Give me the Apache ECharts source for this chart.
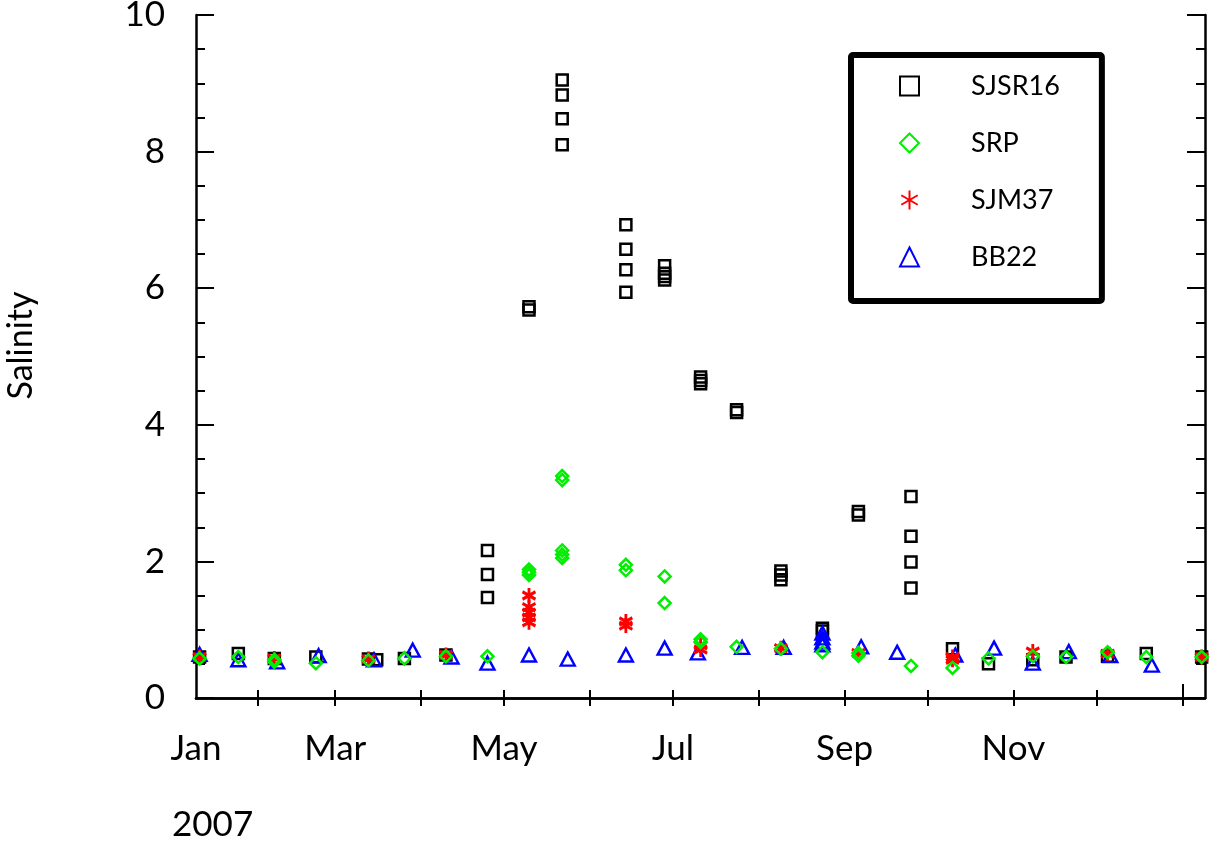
<!DOCTYPE html>
<html>
<head>
<meta charset="utf-8">
<script src="https://cdn.jsdelivr.net/npm/echarts@6/dist/echarts.min.js"></script>
<style>
  html, body { margin: 0; padding: 0; background: #fff; }
  #chart { width: 1211px; height: 842px; }
</style>
</head>
<body>
<div id="chart"></div>
<script>
// salinity samples, [date, value]
var sjsr16 = [
  ['2007-01-11', 0.60], ['2007-01-25', 0.65], ['2007-02-07', 0.58], ['2007-02-22', 0.60],
  ['2007-03-13', 0.57], ['2007-03-16', 0.56], ['2007-03-26', 0.58], ['2007-04-10', 0.63],
  ['2007-04-25', 2.16], ['2007-04-25', 1.81], ['2007-04-25', 1.47],
  ['2007-05-10', 5.73], ['2007-05-10', 5.68],
  ['2007-05-22', 9.05], ['2007-05-22', 8.83], ['2007-05-22', 8.48], ['2007-05-22', 8.10],
  ['2007-06-14', 6.93], ['2007-06-14', 6.57], ['2007-06-14', 6.27], ['2007-06-14', 5.94],
  ['2007-06-28', 6.33], ['2007-06-28', 6.22], ['2007-06-28', 6.17], ['2007-06-28', 6.12],
  ['2007-07-11', 4.70], ['2007-07-11', 4.65], ['2007-07-11', 4.60],
  ['2007-07-24', 4.22], ['2007-07-24', 4.18],
  ['2007-08-09', 1.86], ['2007-08-09', 1.80], ['2007-08-09', 1.73],
  ['2007-08-24', 1.02], ['2007-08-24', 0.98],
  ['2007-09-06', 2.73], ['2007-09-06', 2.68],
  ['2007-09-25', 2.95], ['2007-09-25', 2.37], ['2007-09-25', 1.99], ['2007-09-25', 1.61],
  ['2007-10-10', 0.72], ['2007-10-23', 0.50], ['2007-11-08', 0.56], ['2007-11-20', 0.60],
  ['2007-12-05', 0.61], ['2007-12-19', 0.65], ['2008-01-08', 0.60]
];
var srp = [
  ['2007-01-11', 0.58], ['2007-01-25', 0.60], ['2007-02-07', 0.53], ['2007-02-07', 0.56],
  ['2007-02-22', 0.51], ['2007-03-13', 0.55], ['2007-03-26', 0.58], ['2007-04-10', 0.61],
  ['2007-04-25', 0.61],
  ['2007-05-10', 1.88], ['2007-05-10', 1.84], ['2007-05-10', 1.80],
  ['2007-05-22', 3.25], ['2007-05-22', 3.19], ['2007-05-22', 2.16], ['2007-05-22', 2.10], ['2007-05-22', 2.05],
  ['2007-06-14', 1.95], ['2007-06-14', 1.87],
  ['2007-06-28', 1.78], ['2007-06-28', 1.39],
  ['2007-07-11', 0.86], ['2007-07-11', 0.82], ['2007-07-24', 0.75], ['2007-08-09', 0.72],
  ['2007-08-24', 0.67], ['2007-09-06', 0.66], ['2007-09-06', 0.62], ['2007-09-25', 0.47],
  ['2007-10-10', 0.44], ['2007-10-23', 0.58], ['2007-11-08', 0.61], ['2007-11-20', 0.60],
  ['2007-12-05', 0.67], ['2007-12-19', 0.60], ['2008-01-08', 0.60]
];
var sjm37 = [
  ['2007-01-11', 0.60], ['2007-02-07', 0.58], ['2007-03-13', 0.57], ['2007-04-10', 0.63],
  ['2007-05-10', 1.50], ['2007-05-10', 1.33], ['2007-05-10', 1.25], ['2007-05-10', 1.18], ['2007-05-10', 1.11],
  ['2007-06-14', 1.12], ['2007-06-14', 1.06],
  ['2007-07-11', 0.77], ['2007-07-11', 0.71], ['2007-08-09', 0.73], ['2007-09-06', 0.66],
  ['2007-10-10', 0.60], ['2007-10-10', 0.56], ['2007-11-08', 0.68], ['2007-12-05', 0.65],
  ['2008-01-08', 0.60]
];
var bb22 = [
  ['2007-01-11', 0.64], ['2007-01-25', 0.56], ['2007-02-08', 0.53], ['2007-02-23', 0.62],
  ['2007-03-15', 0.56], ['2007-03-29', 0.70], ['2007-04-12', 0.60], ['2007-04-25', 0.51],
  ['2007-05-10', 0.63], ['2007-05-24', 0.57], ['2007-06-14', 0.63], ['2007-06-28', 0.73],
  ['2007-07-10', 0.66], ['2007-07-26', 0.74], ['2007-08-10', 0.74],
  ['2007-08-24', 0.95], ['2007-08-24', 0.88], ['2007-08-24', 0.82], ['2007-08-24', 0.78],
  ['2007-09-07', 0.75], ['2007-09-20', 0.67], ['2007-10-11', 0.63], ['2007-10-25', 0.73],
  ['2007-11-08', 0.51], ['2007-11-21', 0.68], ['2007-12-06', 0.62], ['2007-12-21', 0.48]
];
var monthNames = ['Jan', 'Feb', 'Mar', 'Apr', 'May', 'Jun', 'Jul', 'Aug', 'Sep', 'Oct', 'Nov', 'Dec'];
var legendNames = ['SJSR16', 'SRP', 'SJM37', 'BB22'];

// dates -> timestamps (local time) so a value axis can carry custom month ticks
function ts(s) {
    var p = s.split('-');
    return new Date(+p[0], +p[1] - 1, +p[2]).getTime();
}
function toPoints(arr) {
    return arr.map(function (d) { return [ts(d[0]), d[1]]; });
}

var xMin = new Date(2007, 0, 9, 17).getTime();
var xMax = new Date(2008, 0, 9, 5).getTime();
var monthTicks = [];
for (var m = 1; m <= 12; m++) monthTicks.push(new Date(2007, m, 1).getTime());
var monthLabels = [xMin];
for (var k = 2; k < 12; k += 2) monthLabels.push(new Date(2007, k, 1).getTime());

var font = 'Lato';
var asterisk = 'path://M10,0L10,20M1.34,5L18.66,15M1.34,15L18.66,5';

var myChart = echarts.init(document.getElementById('chart'));

var option = {
    animation: false,
    backgroundColor: '#fff',
    grid: {
        left: 196,
        right: 6,
        top: 15,
        bottom: 144,
        outerBoundsMode: 'none'
    },
    legend: {
        data: legendNames,
        orient: 'vertical',
        left: 851,
        top: 55,
        itemWidth: 19,
        itemHeight: 19,
        itemGap: 27,
        padding: [16, 42, 29, 48],
        borderColor: '#000',
        borderWidth: 6,
        borderRadius: 2,
        backgroundColor: '#fff',
        textStyle: {
            fontFamily: font,
            fontSize: 27,
            lineHeight: 30,
            color: '#000',
            padding: [0, 0, 0, 47]
        }
    },
    xAxis: [
        {
            type: 'value',
            position: 'bottom',
            min: xMin,
            max: xMax,
            axisLine: { lineStyle: { color: '#000', width: 2.5 } },
            axisTick: { inside: true, length: 8, customValues: monthTicks, lineStyle: { color: '#000', width: 2 } },
            axisLabel: {
                customValues: monthLabels,
                margin: 33,
                fontFamily: font,
                fontSize: 35,
                color: '#000',
                formatter: function (value) {
                    return monthNames[new Date(value).getMonth()];
                }
            },
            splitLine: { show: false }
        },
        {
            type: 'value',
            position: 'top',
            min: xMin,
            max: xMax,
            axisLine: { lineStyle: { color: '#000', width: 2.5 } },
            axisTick: { inside: true, length: 8, customValues: monthTicks, lineStyle: { color: '#000', width: 2 } },
            axisLabel: { show: false },
            splitLine: { show: false }
        },
        {
            type: 'value',
            position: 'bottom',
            min: xMin,
            max: xMax,
            axisLine: { show: false },
            axisTick: { inside: true, length: 14, customValues: [new Date(2008, 0, 1).getTime()], lineStyle: { color: '#000', width: 2 } },
            axisLabel: { show: false },
            splitLine: { show: false }
        }
    ],
    yAxis: [
        {
            type: 'value',
            position: 'left',
            min: 0,
            max: 10,
            interval: 2,
            name: 'Salinity',
            nameLocation: 'middle',
            nameGap: 158,
            nameTextStyle: { fontFamily: font, fontSize: 34, color: '#000', padding: [0, 0, 0, 22] },
            axisLine: { show: true, lineStyle: { color: '#000', width: 2.5 } },
            axisTick: { show: true, inside: true, length: 18, lineStyle: { color: '#000', width: 2 } },
            minorTick: { show: true, splitNumber: 4, length: 9, lineStyle: { color: '#000', width: 2 } },
            axisLabel: { margin: 31, fontFamily: font, fontSize: 35, color: '#000' },
            splitLine: { show: false }
        },
        {
            type: 'value',
            position: 'right',
            min: 0,
            max: 10,
            interval: 2,
            axisLine: { show: true, lineStyle: { color: '#000', width: 2.5 } },
            axisTick: { show: true, inside: true, length: 18, lineStyle: { color: '#000', width: 2 } },
            minorTick: { show: true, splitNumber: 4, length: 9, lineStyle: { color: '#000', width: 2 } },
            axisLabel: { show: false },
            splitLine: { show: false }
        }
    ],
    graphic: [
        {
            type: 'text',
            left: 172,
            top: 807,
            style: { text: '2007', fontFamily: font, fontSize: 35, fill: '#000' }
        }
    ],
    series: [
        {
            name: 'SJSR16',
            type: 'scatter',
            data: toPoints(sjsr16),
            symbol: 'rect',
            symbolSize: 11,
            itemStyle: { color: 'transparent', borderColor: '#000', borderWidth: 2.5, opacity: 1 }
        },
        {
            name: 'BB22',
            type: 'scatter',
            data: toPoints(bb22),
            symbol: 'triangle',
            symbolSize: [14, 13],
            itemStyle: { color: 'transparent', borderColor: '#0000ff', borderWidth: 2.4, opacity: 1 }
        },
        {
            name: 'SJM37',
            type: 'scatter',
            data: toPoints(sjm37),
            symbol: asterisk,
            symbolSize: [13, 15],
            itemStyle: { color: 'transparent', borderColor: '#ff0000', borderWidth: 3, opacity: 1 }
        },
        {
            name: 'SRP',
            type: 'scatter',
            data: toPoints(srp),
            symbol: 'diamond',
            symbolSize: 12,
            itemStyle: { color: 'transparent', borderColor: '#00ee00', borderWidth: 2.5, opacity: 1 }
        }
    ]
};
myChart.setOption(option);
</script>
</body>
</html>
